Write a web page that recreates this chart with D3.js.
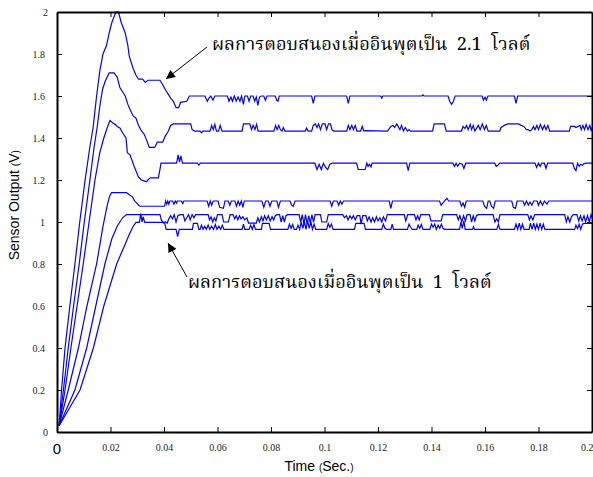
<!DOCTYPE html>
<html>
<head>
<meta charset="utf-8">
<script src="https://cdn.jsdelivr.net/npm/d3@7"></script>
<style>
  body { margin: 0; background: #fff; }
  svg { display: block; }
</style>
</head>
<body>
<div id="chart"></div>
<script>
// sensor output responses, [time (s), volts]
const xTicks = [0.02, 0.04, 0.06, 0.08, 0.1, 0.12, 0.14, 0.16, 0.18, 0.2];
const yTicks = [0, 0.2, 0.4, 0.6, 0.8, 1, 1.2, 1.4, 1.6, 1.8, 2];
const noteTop = "ผลการตอบสนองเมื่ออินพุตเป็น  2.1  โวลต์";
const noteBottom = "ผลการตอบสนองเมื่ออินพุตเป็น  1  โวลต์";

const seriesA = [[0.0008,0.03],[0.0017,0.2],[0.003,0.4],[0.0048,0.6],[0.0067,0.8],[0.0085,1.0],[0.0105,1.2],[0.0122,1.35],[0.0135,1.45],[0.0148,1.6],[0.016,1.72],[0.0172,1.8],[0.0185,1.84],[0.0195,1.9],[0.0205,1.95],[0.022,2.0],[0.023,2.0],[0.024,1.95],[0.0255,1.9],[0.0265,1.84],[0.027,1.79],[0.0285,1.73],[0.0295,1.70],[0.0305,1.68],[0.032,1.68],[0.033,1.665],[0.034,1.675],[0.0385,1.675],[0.0395,1.655],[0.0405,1.63],[0.0415,1.61],[0.0425,1.59],[0.0435,1.575],[0.0445,1.545],[0.0455,1.545],[0.0462,1.57],[0.0485,1.575],[0.0495,1.60],
  [0.0553,1.60],[0.0562,1.575],[0.0568,1.59],[0.0575,1.60],[0.0583,1.58],[0.059,1.60],
  [0.0637,1.60],[0.0643,1.575],[0.065,1.595],[0.0656,1.575],[0.0663,1.60],[0.067,1.575],[0.0677,1.595],[0.0684,1.575],[0.069,1.60],[0.0697,1.56],[0.0702,1.60],[0.0712,1.60],[0.0718,1.575],[0.0724,1.60],
  [0.0733,1.60],[0.0739,1.575],[0.0745,1.595],[0.0751,1.555],[0.0757,1.595],[0.0764,1.60],[0.0773,1.60],[0.0779,1.58],[0.0785,1.60],[0.0816,1.60],[0.0821,1.58],[0.0826,1.575],[0.0831,1.60],
  [0.0952,1.60],[0.0958,1.565],[0.0964,1.60],
  [0.1083,1.60],[0.1089,1.565],[0.1095,1.60],
  [0.121,1.60],[0.1214,1.59],[0.1218,1.60],
  [0.1364,1.60],[0.1368,1.605],[0.1372,1.60],
  [0.1462,1.60],[0.1468,1.575],[0.1475,1.56],[0.1482,1.575],[0.1488,1.60],
  [0.1589,1.60],[0.1594,1.58],[0.16,1.595],[0.1605,1.58],[0.1611,1.60],
  [0.171,1.60],[0.1716,1.565],[0.1722,1.60],
  [0.2,1.60]];

const seriesB = [[0.0008,0.03],[0.0024,0.2],[0.0042,0.4],[0.0062,0.6],[0.0083,0.8],[0.0102,1.0],[0.0123,1.2],[0.0138,1.35],[0.015,1.45],[0.016,1.55],[0.017,1.63],[0.018,1.67],[0.0195,1.71],[0.0213,1.71],[0.0225,1.69],[0.0235,1.64],[0.0245,1.62],[0.0255,1.6],[0.0265,1.56],[0.0275,1.53],[0.0285,1.505],[0.0295,1.495],[0.0305,1.46],[0.0315,1.435],[0.0325,1.42],[0.0335,1.39],[0.0345,1.355],[0.0365,1.355],[0.0375,1.38],[0.0395,1.38],[0.0405,1.41],[0.0415,1.43],[0.0425,1.46],[0.0435,1.467],[0.05,1.467],[0.0505,1.44],[0.0515,1.433],
  [0.0535,1.433],[0.054,1.425],[0.0546,1.433],[0.0572,1.433],[0.0578,1.46],[0.0584,1.44],[0.059,1.465],[0.0596,1.433],[0.0604,1.433],[0.061,1.46],[0.0617,1.433],[0.0692,1.433],[0.0697,1.467],[0.0721,1.467],[0.0727,1.44],[0.0733,1.46],[0.074,1.44],[0.0746,1.465],[0.0752,1.433],[0.0811,1.433],[0.0817,1.46],[0.0823,1.44],[0.0829,1.46],[0.0835,1.44],[0.0841,1.433],[0.0846,1.45],[0.0852,1.433],[0.0928,1.433],[0.0933,1.447],[0.0939,1.433],[0.0952,1.433],[0.0958,1.46],[0.0966,1.467],[0.0972,1.45],[0.0978,1.467],[0.0985,1.44],[0.0992,1.467],[0.1002,1.467],[0.1008,1.44],[0.1015,1.467],[0.1022,1.467],[0.1028,1.44],[0.1035,1.433],[0.1083,1.433],[0.1089,1.46],[0.1095,1.44],[0.1102,1.46],[0.1108,1.44],[0.1115,1.46],[0.1121,1.433],[0.1135,1.433],[0.1141,1.455],[0.1147,1.433],[0.1154,1.435],[0.1236,1.433],[0.1242,1.445],[0.1248,1.455],[0.1256,1.46],[0.1262,1.45],[0.127,1.467],
  [0.1282,1.44],[0.1288,1.46],[0.1295,1.433],[0.1302,1.45],[0.131,1.433],[0.1316,1.44],[0.1322,1.433],[0.1404,1.433],[0.141,1.467],[0.1448,1.467],[0.1455,1.433],[0.1512,1.433],[0.1518,1.455],[0.1525,1.445],[0.1531,1.46],[0.1537,1.44],[0.1545,1.465],[0.155,1.44],[0.1556,1.46],[0.1562,1.433],[0.1575,1.46],[0.1582,1.44],[0.159,1.467],[0.1598,1.44],[0.1605,1.46],[0.1612,1.433],[0.1655,1.433],[0.166,1.45],[0.1666,1.455],[0.1672,1.46],[0.1685,1.467],[0.1725,1.467],[0.1735,1.46],[0.1745,1.455],[0.1755,1.44],[0.1762,1.44],[0.1768,1.433],[0.1775,1.44],[0.1781,1.455],[0.1787,1.44],[0.1794,1.46],[0.18,1.44],[0.1807,1.465],[0.1815,1.44],[0.1822,1.46],[0.1828,1.44],[0.1835,1.46],[0.1842,1.433],[0.1915,1.433],[0.192,1.455],[0.1935,1.455],[0.194,1.45],[0.1955,1.46],[0.196,1.44],[0.1966,1.46],[0.1972,1.44],[0.1978,1.465],[0.1985,1.44],[0.1992,1.46],[0.1997,1.433],[0.2,1.45]];

const seriesC = [[0.0008,0.03],[0.003,0.2],[0.0052,0.4],[0.0075,0.6],[0.0098,0.8],[0.012,1.0],[0.0142,1.2],[0.016,1.33],[0.0175,1.4],[0.0188,1.45],[0.0198,1.483],[0.021,1.47],[0.0218,1.465],[0.0225,1.455],[0.0236,1.447],[0.0245,1.425],[0.0258,1.40],[0.0263,1.33],[0.0273,1.32],[0.0289,1.263],[0.0304,1.216],[0.0315,1.20],[0.0335,1.192],[0.034,1.2],[0.0348,1.21],[0.0379,1.21],[0.0389,1.28],
  [0.0447,1.28],[0.0453,1.32],[0.0458,1.285],[0.0463,1.315],[0.0469,1.28],[0.0525,1.28],[0.053,1.27],[0.0536,1.28],
  [0.0964,1.28],[0.0972,1.25],[0.098,1.275],[0.0988,1.25],[0.0996,1.28],[0.1004,1.26],[0.1012,1.25],[0.102,1.275],[0.1028,1.28],[0.112,1.28],[0.1126,1.25],[0.1152,1.25],[0.1158,1.28],[0.1163,1.265],[0.1168,1.275],[0.1174,1.262],[0.1178,1.28],
  [0.1307,1.28],[0.1313,1.245],[0.1319,1.28],[0.148,1.28],[0.1486,1.265],[0.1492,1.28],[0.1498,1.265],[0.1505,1.28],[0.1515,1.275],[0.1521,1.255],[0.1528,1.28],[0.1636,1.28],[0.1642,1.265],[0.1648,1.27],[0.1655,1.28],[0.1787,1.28],[0.1793,1.26],[0.18,1.28],[0.1806,1.265],[0.1812,1.28],[0.1822,1.28],[0.1828,1.255],[0.1834,1.28],[0.1928,1.28],[0.1934,1.255],[0.194,1.245],[0.1946,1.28],[0.1952,1.265],[0.1958,1.275],[0.1964,1.27],[0.197,1.278],[0.198,1.28],[0.2,1.28]];

const seriesD = [[0.0008,0.03],[0.0042,0.2],[0.008,0.4],[0.0112,0.6],[0.0148,0.8],[0.0172,0.98],[0.0188,1.08],[0.0196,1.12],[0.0204,1.14],[0.026,1.14],[0.027,1.13],[0.0282,1.12],[0.029,1.10],[0.0298,1.09],[0.0305,1.08],[0.031,1.075],[0.0402,1.075],[0.0406,1.10],[0.041,1.085],[0.0414,1.10],[0.0418,1.085],[0.0422,1.10],[0.0432,1.10],[0.0437,1.085],[0.0442,1.10],[0.0447,1.09],[0.045,1.10],[0.0465,1.10],[0.047,1.088],[0.0474,1.10],
  [0.0561,1.10],[0.0567,1.075],[0.0573,1.10],[0.0578,1.08],[0.0584,1.10],[0.0602,1.10],[0.0608,1.07],[0.0622,1.065],[0.0628,1.10],[0.064,1.10],[0.0646,1.08],[0.0652,1.10],[0.0665,1.10],[0.0671,1.075],[0.0677,1.10],[0.0683,1.08],[0.0689,1.10],[0.0695,1.07],[0.07,1.10],[0.0766,1.10],[0.0773,1.07],[0.078,1.10],[0.079,1.10],[0.0796,1.075],[0.0803,1.10],[0.0822,1.10],[0.0828,1.07],[0.0835,1.10],[0.0871,1.10],[0.0877,1.08],[0.0883,1.075],[0.089,1.10],[0.1021,1.10],[0.1027,1.075],[0.1033,1.10],[0.1047,1.10],[0.1053,1.08],[0.1059,1.10],[0.1065,1.085],[0.1071,1.10],[0.1242,1.10],[0.1248,1.065],[0.1254,1.10],
  [0.143,1.10],[0.1436,1.08],[0.1442,1.09],[0.1452,1.105],[0.1458,1.112],[0.1464,1.10],[0.1506,1.10],[0.1512,1.075],[0.1518,1.09],[0.1524,1.07],[0.153,1.10],[0.1592,1.10],[0.1598,1.075],[0.1606,1.065],[0.1612,1.10],[0.1618,1.10],[0.1624,1.075],[0.1632,1.065],[0.1638,1.10],[0.17,1.10],[0.1706,1.07],[0.1714,1.065],[0.172,1.10],[0.1742,1.10],[0.1748,1.08],[0.1755,1.10],[0.1762,1.08],[0.1768,1.095],[0.1775,1.08],[0.1782,1.10],[0.1795,1.10],[0.18,1.08],[0.1807,1.10],[0.1815,1.08],[0.1822,1.10],[0.1832,1.085],[0.1838,1.10],[0.2,1.10]];

const seriesE = [[0.0008,0.03],[0.0067,0.2],[0.0111,0.4],[0.0145,0.6],[0.0179,0.8],[0.0205,0.92],[0.0225,0.98],[0.0245,1.02],[0.026,1.035],[0.0385,1.035],[0.039,1.01],[0.0398,0.995],[0.0405,1.0],[0.0412,0.995],[0.0418,1.015],[0.0425,1.03],[0.0432,1.015],[0.0438,1.035],[0.0445,1.0],[0.0452,1.03],[0.046,1.035],[0.0472,1.035],[0.0478,1.005],[0.0485,1.02],[0.0492,1.035],[0.0498,1.01],[0.0505,1.035],[0.0512,1.02],[0.0518,1.035],
  [0.0565,1.035],[0.057,1.01],[0.0576,1.025],[0.0582,1.0],[0.0588,1.02],[0.0594,1.005],[0.06,1.035],[0.0617,1.035],[0.0623,1.0],[0.0641,1.0],[0.0647,1.035],[0.0658,1.035],[0.0664,1.015],[0.067,1.03],[0.0676,1.01],[0.0682,1.03],[0.0688,1.015],[0.0695,1.025],[0.0702,1.01],[0.071,1.02],[0.0716,0.995],[0.0745,0.995],[0.0751,1.02],[0.0757,1.0],[0.0764,1.025],[0.077,1.005],[0.0776,1.03],[0.0783,1.01],[0.079,1.03],[0.0797,1.005],[0.0804,1.025],[0.081,1.01],[0.0816,1.03],[0.0822,1.035],[0.0832,1.035],[0.0838,1.0],[0.0844,1.03],[0.085,1.0],[0.0856,1.03],[0.0862,1.035],[0.0905,1.035],[0.0911,1.0],[0.0917,1.035],[0.0923,0.99],[0.0929,1.035],[0.0935,0.99],[0.0941,1.03],[0.0947,0.995],[0.0953,1.035],[0.0959,1.0],[0.0965,1.035],[0.0985,1.035],[0.099,1.0],[0.1008,1.0],[0.1014,1.035],[0.1068,1.035],[0.1075,1.02],[0.1082,1.03],[0.1088,1.01],[0.1095,1.03],[0.1102,1.015],[0.1108,1.03],[0.1115,1.01],[0.1122,1.03],[0.1132,1.03],[0.1137,0.99],[0.1143,1.03],[0.1155,1.03],[0.116,1.005],[0.1167,1.025],[0.1174,1.0],[0.118,1.02],[0.1187,1.0],[0.1194,1.025],[0.12,1.005],[0.1207,1.02],[0.1214,1.0],[0.122,1.025],[0.1228,1.005],[0.1235,1.035],
  [0.1298,1.035],[0.1304,1.005],[0.1311,1.035],[0.1336,1.035],[0.1342,1.01],[0.1348,1.03],[0.1354,1.01],[0.136,1.035],[0.1392,1.035],[0.1398,1.005],[0.1436,1.005],[0.1442,1.035],[0.1494,1.035],[0.15,1.01],[0.1506,1.03],[0.1513,1.0],[0.152,1.03],[0.1527,1.005],[0.1533,1.035],[0.1544,1.035],[0.155,1.0],[0.1556,1.03],[0.1562,1.005],[0.1568,1.03],[0.1575,1.035],[0.163,1.035],[0.1637,1.0],[0.1644,1.015],[0.165,1.0],[0.1656,1.035],[0.176,1.035],[0.1766,1.01],[0.1772,1.03],[0.1779,1.01],[0.1786,1.035],[0.1898,1.035],[0.1904,1.0],[0.191,1.025],[0.1917,1.0],[0.1923,1.025],[0.193,1.035],[0.1944,1.035],[0.195,1.005],[0.1957,1.03],[0.1963,1.005],[0.197,1.03],[0.1976,1.0],[0.1983,1.03],[0.199,1.0],[0.1996,1.035],[0.2,1.02]];

const seriesF = [[0.0008,0.03],[0.0086,0.2],[0.0136,0.4],[0.0175,0.6],[0.0223,0.8],[0.025,0.88],[0.027,0.94],[0.0285,0.98],[0.0295,0.998],[0.0308,0.998],[0.0313,1.04],[0.0318,1.0],[0.0322,1.025],[0.0328,0.998],[0.0402,0.998],[0.0408,0.965],[0.0445,0.965],[0.0451,0.93],[0.0457,0.965],[0.0506,0.965],[0.051,0.993],[0.0525,0.993],[0.053,0.965],
  [0.0535,0.965],[0.054,0.985],[0.0546,0.965],[0.0552,0.98],[0.0558,0.965],[0.0565,0.985],[0.0571,0.965],[0.0578,0.98],[0.0585,0.965],[0.0592,0.988],[0.0598,0.965],[0.0605,0.98],[0.0612,0.965],[0.0618,0.985],[0.0624,0.965],[0.0692,0.965],[0.0697,0.99],[0.0702,0.965],[0.0718,0.965],[0.0724,0.985],[0.073,0.965],[0.0736,0.988],[0.0742,0.965],[0.0764,0.965],[0.0768,0.993],[0.0793,0.993],[0.0798,0.965],[0.0863,0.965],[0.0869,0.99],[0.0875,0.97],[0.0881,0.988],[0.0887,0.965],[0.0895,0.965],[0.0901,0.985],[0.0907,0.965],[0.0913,1.0],[0.0919,0.97],[0.0925,1.0],[0.0931,0.965],[0.0937,1.005],[0.0943,0.97],[0.0949,1.0],[0.0955,0.965],[0.0961,0.99],[0.0967,0.965],[0.1008,0.965],[0.1014,0.993],[0.102,0.975],[0.1026,0.99],[0.1032,0.965],[0.1112,0.965],[0.1117,0.993],[0.1148,0.993],[0.1153,0.965],[0.1214,0.965],[0.122,0.99],[0.1226,0.97],[0.1232,0.965],[0.1248,0.965],[0.1253,0.99],[0.1258,0.965],
  [0.131,0.965],[0.1316,0.99],[0.1322,0.975],[0.1328,0.965],[0.1345,0.965],[0.135,0.985],[0.1356,0.97],[0.1362,0.988],[0.1368,0.965],[0.1394,0.965],[0.14,0.99],[0.1406,0.975],[0.1412,0.99],[0.1418,0.965],[0.1425,0.985],[0.1431,0.97],[0.1437,0.99],[0.1443,0.97],[0.1449,0.965],[0.1505,0.965],[0.151,1.0],[0.1515,0.97],[0.1521,1.005],[0.1526,0.965],[0.1553,0.965],[0.1557,0.978],[0.1561,0.965],[0.1644,0.965],[0.165,0.988],[0.1656,0.965],[0.171,0.965],[0.1716,0.99],[0.1722,0.965],[0.1728,0.995],[0.1734,0.965],[0.174,0.99],[0.1746,0.965],[0.1765,0.965],[0.177,0.995],[0.1776,0.965],[0.1782,0.995],[0.1788,0.965],[0.1794,0.99],[0.18,0.965],[0.1806,0.995],[0.1812,0.965],[0.1818,0.99],[0.1824,0.965],[0.1935,0.965],[0.194,0.985],[0.1946,0.968],[0.1952,0.99],[0.1958,0.965],[0.1964,0.99],[0.197,0.993],[0.2,0.993]];

const allSeries = [seriesA, seriesB, seriesC, seriesD, seriesE, seriesF];

const width = 593, height = 477;
const margin = { top: 12, right: 1, bottom: 45, left: 57 };

const svg = d3.select("#chart").append("svg")
  .attr("width", width)
  .attr("height", height);

const x = d3.scaleLinear().domain([0, 0.2]).range([margin.left, width - margin.right]);
const y = d3.scaleLinear().domain([0, 2]).range([height - margin.bottom, margin.top]);

const serif = "'Liberation Serif', 'Times New Roman', serif";
const sans = "'Liberation Sans', Arial, sans-serif";
const thai = "'Noto Serif Thai', 'Norasi', 'Loma', 'Noto Sans Thai', serif";

// lines
const line = d3.line().x(d => x(d[0])).y(d => y(d[1]));
svg.append("g")
  .selectAll("path")
  .data(allSeries)
  .join("path")
  .attr("fill", "none")
  .attr("stroke", "#0000ff")
  .attr("stroke-width", 1.2)
  .attr("d", line);

// axes, ticks point inward
const gx = svg.append("g")
  .attr("transform", "translate(0," + y(0) + ")")
  .call(d3.axisBottom(x).tickValues(xTicks).tickSize(-5).tickSizeOuter(0).tickPadding(12)
    .tickFormat(d => +d.toFixed(2)));
const gy = svg.append("g")
  .attr("transform", "translate(" + x(0) + ",0)")
  .call(d3.axisLeft(y).tickValues(yTicks).tickSize(-5).tickSizeOuter(0).tickPadding(12)
    .tickFormat(d => +d.toFixed(1)));
svg.append("g")
  .attr("transform", "translate(0," + y(2) + ")")
  .call(d3.axisTop(x).tickValues(xTicks.slice(0, -1)).tickSize(-5).tickSizeOuter(0).tickFormat(""));
svg.append("g")
  .attr("transform", "translate(" + x(0.2) + ",0)")
  .call(d3.axisRight(y).tickValues(yTicks.slice(1, -1)).tickSize(-5).tickSizeOuter(0).tickFormat(""));

svg.selectAll(".domain").attr("stroke", "#000").attr("stroke-width", 2);
svg.selectAll(".tick line").attr("stroke", "#000").attr("stroke-width", 1);
svg.selectAll(".tick text").attr("font-family", serif).attr("font-size", 10).attr("fill", "#222");
gy.selectAll(".tick text").filter(d => d === 0 || d === 2).attr("x", -9);
// last label sits on the page edge
gx.selectAll(".tick text").filter(d => d === 0.2).attr("text-anchor", "end").attr("x", 1);

// big zero at the origin
svg.append("text")
  .attr("x", x(0)).attr("y", y(0) + 22)
  .attr("text-anchor", "middle")
  .attr("font-family", sans).attr("font-size", 15)
  .text("0");

// axis titles
const xt = svg.append("text")
  .attr("x", 319).attr("y", 471)
  .attr("text-anchor", "middle")
  .attr("font-family", sans).attr("font-size", 14);
xt.append("tspan").text("Time ");
xt.append("tspan").attr("font-size", 10).text("(");
xt.append("tspan").text("Sec.");
xt.append("tspan").attr("font-size", 10).text(")");

const yt = svg.append("text")
  .attr("transform", "translate(19," + (y(1.08)) + ") rotate(-90)")
  .attr("text-anchor", "middle")
  .attr("font-family", sans).attr("font-size", 14);
yt.append("tspan").text("Sensor Output ");
yt.append("tspan").attr("font-size", 10).text("(");
yt.append("tspan").text("V");
yt.append("tspan").attr("font-size", 10).text(")");

// annotations
svg.append("defs").append("marker")
  .attr("id", "head")
  .attr("viewBox", "0 0 10 10")
  .attr("refX", 10).attr("refY", 5)
  .attr("markerWidth", 14).attr("markerHeight", 9)
  .attr("markerUnits", "userSpaceOnUse")
  .attr("orient", "auto")
  .append("path").attr("d", "M0,0L10,5L0,10Z").attr("fill", "#000");

svg.append("line")
  .attr("x1", 207).attr("y1", 47).attr("x2", 166).attr("y2", 79)
  .attr("stroke", "#000").attr("stroke-width", 1)
  .attr("marker-end", "url(#head)");
svg.append("line")
  .attr("x1", 187).attr("y1", 277).attr("x2", 168).attr("y2", 243)
  .attr("stroke", "#000").attr("stroke-width", 1)
  .attr("marker-end", "url(#head)");

svg.append("text")
  .attr("x", 212).attr("y", 50)
  .style("white-space", "pre")
  .attr("font-family", thai).attr("font-size", 18.3)
  .text(noteTop);
svg.append("text")
  .attr("x", 188).attr("y", 288)
  .style("white-space", "pre")
  .attr("font-family", thai).attr("font-size", 18.3)
  .text(noteBottom);
</script>
</body>
</html>
